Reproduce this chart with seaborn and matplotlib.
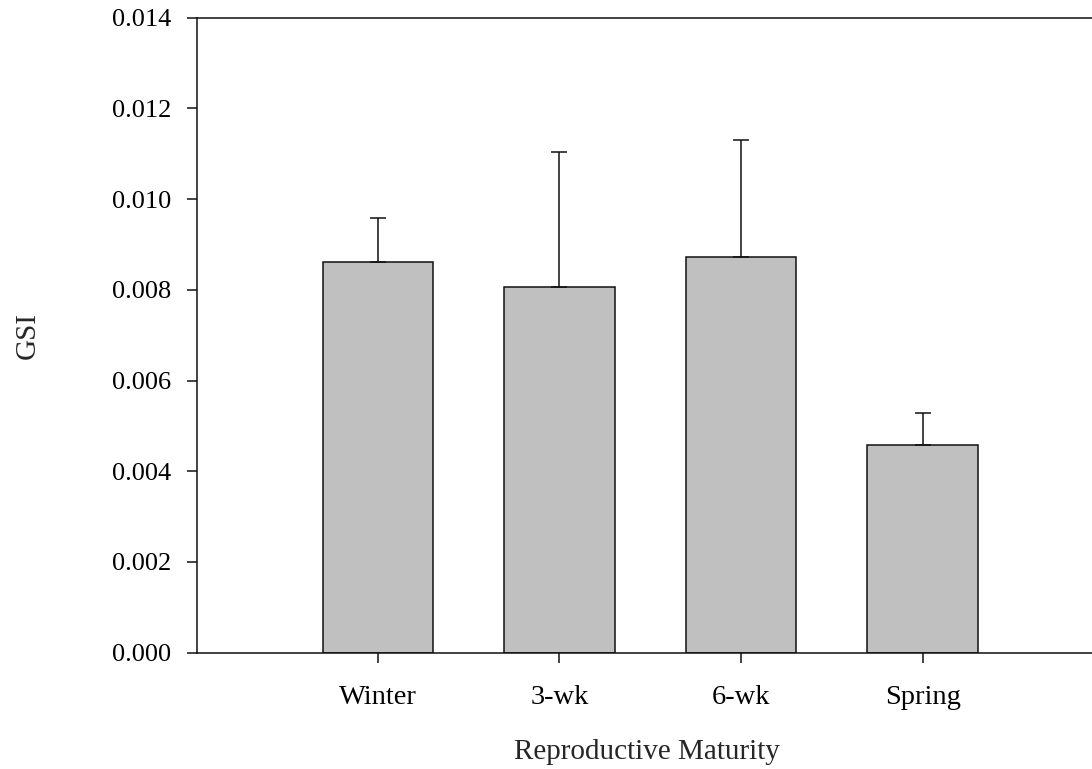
import matplotlib
matplotlib.use("Agg")
import matplotlib.pyplot as plt
import seaborn as sns
import pandas as pd
import numpy as np

categories = ["Winter", "3-wk", "6-wk", "Spring"]
gsi_mean = [0.00861, 0.00807, 0.00873, 0.00458]
gsi_upper = [0.00958, 0.01105, 0.01130, 0.00529]
gsi_err = [u - m for u, m in zip(gsi_upper, gsi_mean)]
yticks = [0.000, 0.002, 0.004, 0.006, 0.008, 0.010, 0.012, 0.014]

sns.set_theme(style="ticks")
plt.rcParams['font.family'] = ['Liberation Serif', 'DejaVu Serif']

df = pd.DataFrame({"cat": categories, "gsi": gsi_mean})

W, H = 1092, 769
fig = plt.figure(figsize=(W / 100, H / 100), dpi=100)
left, right, top, bottom = 197, 1096, 17.7, 652.7
ax = fig.add_axes([left / W, 1 - bottom / H, (right - left) / W, (bottom - top) / H])

sns.barplot(data=df, x="cat", y="gsi", color="#c0c0c0", saturation=1,
            edgecolor="#111111", linewidth=1.1, width=0.607, errorbar=None, ax=ax)
xpos = np.arange(len(categories))
ax.errorbar(xpos, gsi_mean, yerr=[np.zeros(len(gsi_err)), gsi_err], fmt="none",
            ecolor="#111111", elinewidth=1.1, capsize=5.8, capthick=1.1)

spacing = 181.6
c0 = 377.8
ax.set_xlim((left - c0) / spacing, (right - c0) / spacing)
ax.set_ylim(0, 0.014)
ax.set_yticks(yticks)
ax.set_yticklabels([f"{v:.3f}" for v in yticks])

for s in ["left", "top", "bottom"]:
    ax.spines[s].set_visible(True)
    ax.spines[s].set_linewidth(1.1)
    ax.spines[s].set_color("#111111")
ax.spines["right"].set_visible(False)

ax.tick_params(axis="both", direction="out", length=7.2, width=1.1, color="#111111",
               labelcolor="black")
ax.tick_params(axis="y", pad=11.5, labelsize=19)
ax.tick_params(axis="x", pad=16, labelsize=20.5)

ax.set_xlabel("Reproductive Maturity", fontsize=21, labelpad=21)
ax.set_ylabel("GSI", fontsize=21, labelpad=51)

fig.savefig("out.png", dpi=100)
